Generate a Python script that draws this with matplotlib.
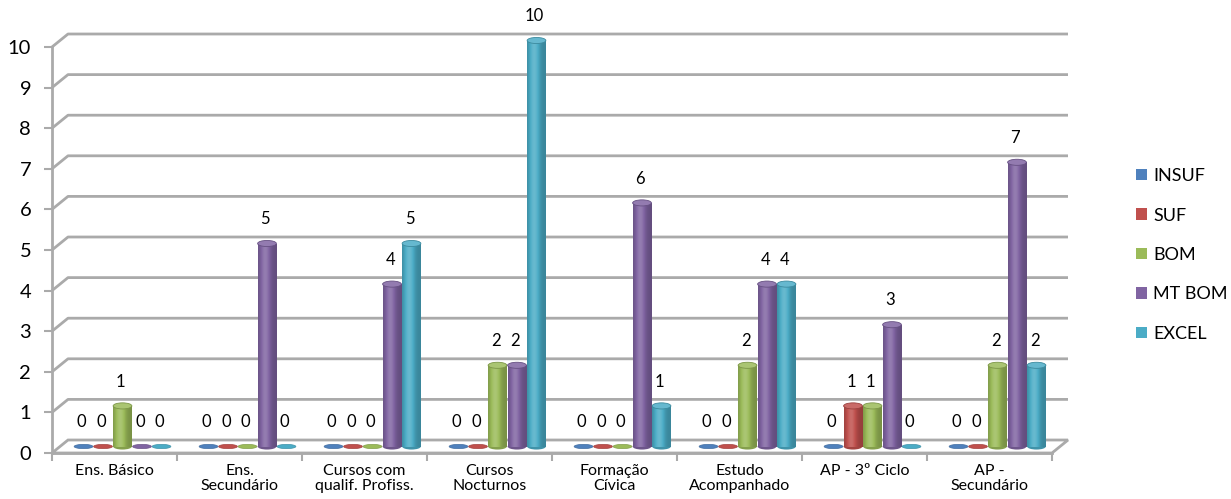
import numpy as np
import matplotlib
matplotlib.use("Agg")
import matplotlib.pyplot as plt
from matplotlib.patches import Ellipse, Polygon, Patch
from matplotlib.colors import to_rgb

plt.rcParams['font.family'] = ['Lato', 'DejaVu Sans']

# data
categories = ["Ens. Básico", "Ens.\nSecundário", "Cursos com\nqualif. Profiss.",
              "Cursos\nNocturnos", "Formação\nCívica", "Estudo\nAcompanhado",
              "AP - 3º Ciclo", "AP -\nSecundário"]
series = ["INSUF", "SUF", "BOM", "MT BOM", "EXCEL"]
insuf = [0, 0, 0, 0, 0, 0, 0, 0]
suf = [0, 0, 0, 0, 0, 0, 1, 0]
bom = [1, 0, 0, 2, 0, 2, 1, 2]
mt_bom = [0, 5, 4, 2, 6, 4, 3, 7]
excel = [0, 0, 5, 10, 1, 4, 0, 2]
colors = ["#4F81BD", "#C0504D", "#9BBB59", "#8064A2", "#4BACC6"]
yticks = list(range(0, 11))

values = [insuf, suf, bom, mt_bom, excel]

# fake 3d depth, in data units
DX, DY = 0.128, 0.32
step, width = 0.156, 0.15
cap_h = 0.15
grid_col = "#aaaaaa"


def shade(c, f):
    c = np.array(to_rgb(c))
    if f < 1:
        return c * f
    return c + (1 - c) * (f - 1)


fig = plt.figure(figsize=(12.31, 4.99), dpi=100)
ax = fig.add_axes([52 / 1231, 46 / 499, 1000 / 1231, 406 / 499])

ncat = len(categories)

# floor and back wall grid
floor = Polygon([(0, 0), (ncat, 0), (ncat + DX, DY), (DX, DY)], closed=True,
                facecolor="white", edgecolor=grid_col, lw=2, clip_on=False, zorder=1)
ax.add_patch(floor)
for v in yticks[1:]:
    ax.plot([0, DX, ncat + DX], [v, v + DY, v + DY], color=grid_col, lw=2,
            clip_on=False, zorder=1, solid_capstyle="butt")

# cylinders
t = np.linspace(0, 1, 40)
prof = 0.78 + 0.38 * np.exp(-((t - 0.38) / 0.28) ** 2)
for i, (vals, col) in enumerate(zip(values, colors)):
    for j, v in enumerate(vals):
        xc = j + 0.5 + (i - 2) * step + DX / 2
        y0 = DY / 2
        y1 = v + DY / 2
        if v > 0:
            img = np.array([[shade(col, f) for f in prof]])
            ax.imshow(img, extent=[xc - width / 2, xc + width / 2, y0, y1],
                      aspect="auto", interpolation="bilinear", zorder=3, clip_on=False)
            ax.add_patch(Ellipse((xc, y0), width, cap_h, facecolor=shade(col, 0.85),
                                 edgecolor="none", zorder=2.9, clip_on=False))
            ax.add_patch(Ellipse((xc, y1), width, cap_h, facecolor=shade(col, 1.15),
                                 edgecolor=shade(col, 0.8), lw=0.6, zorder=4, clip_on=False))
        else:
            ax.add_patch(Ellipse((xc, y1), width, cap_h * 0.7, facecolor=shade(col, 1.0),
                                 edgecolor=shade(col, 0.85), lw=0.5, zorder=4, clip_on=False))
        ax.text(xc - 0.015, y1 + 0.6, str(v), ha="center", va="center",
                fontsize=12, color="black", zorder=5)

ax.set_xlim(0, ncat)
ax.set_ylim(0, 10)
ax.set_aspect("auto")

for s in ["top", "right"]:
    ax.spines[s].set_visible(False)
for s in ["left", "bottom"]:
    ax.spines[s].set_color(grid_col)
    ax.spines[s].set_linewidth(2)
    ax.spines[s].set_zorder(2)

ax.set_yticks(yticks)
ax.tick_params(axis="y", length=6, width=1.5, color=grid_col, labelsize=14.5, pad=9)
ax.set_xticks(range(ncat + 1))
ax.set_xticklabels([])
ax.set_xticks(np.arange(ncat) + 0.5, minor=True)
ax.set_xticklabels(categories, minor=True, fontsize=11.5, linespacing=1.05, va="top")
ax.tick_params(axis="x", which="major", length=6, width=1.5, color=grid_col)
ax.tick_params(axis="x", which="minor", length=0, pad=8)

handles = [Patch(facecolor=c, edgecolor="none") for c in colors]
fig.legend(handles, series, loc="center left", bbox_to_anchor=(1136 / 1231, 244 / 499),
           frameon=False, fontsize=13, handlelength=0.6, handleheight=0.6,
           handletextpad=0.35, labelspacing=1.3, borderpad=0, borderaxespad=0)

fig.savefig("out.png", dpi=100)
